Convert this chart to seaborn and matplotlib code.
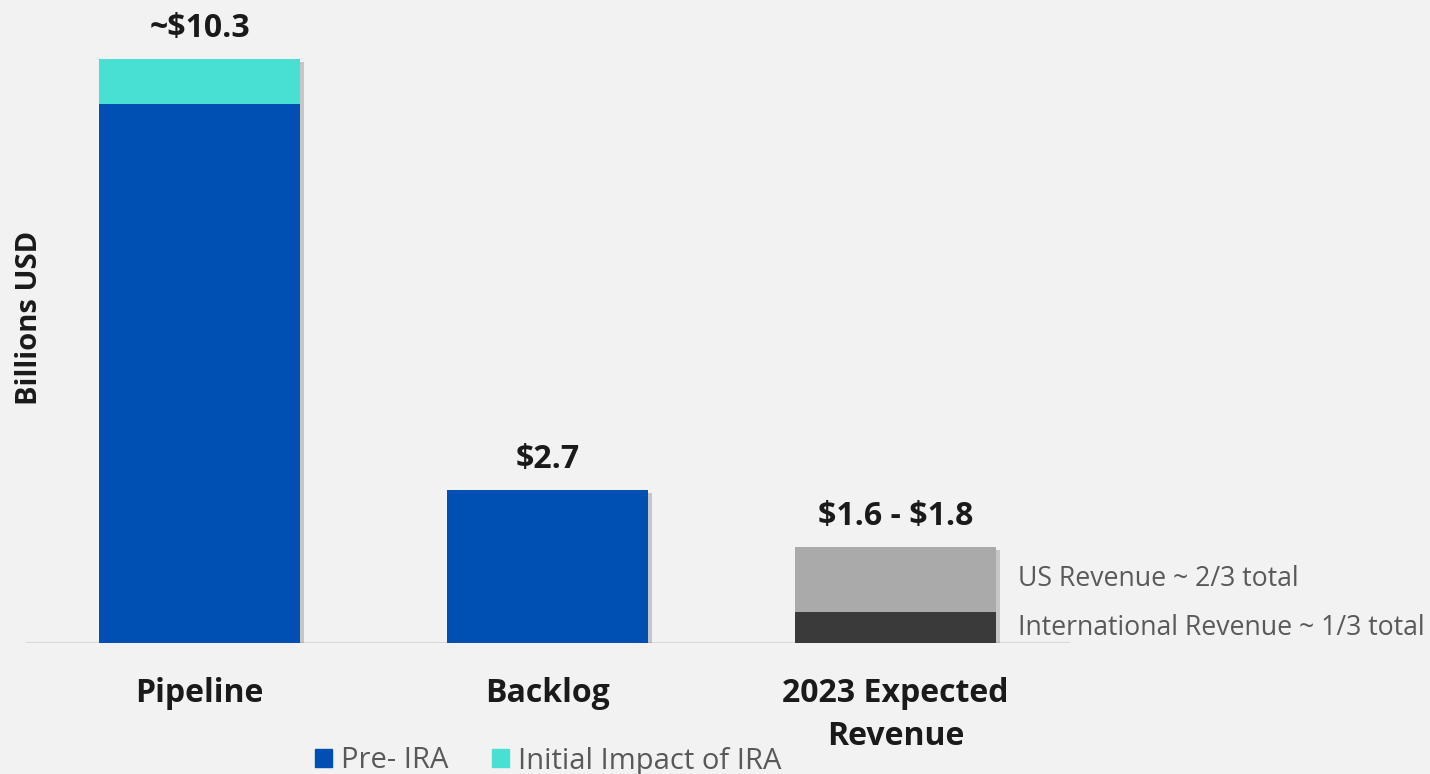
import matplotlib
matplotlib.use("Agg")
import pandas as pd
import seaborn as sns
from matplotlib import pyplot as plt
from matplotlib import patheffects as pe
from matplotlib.patches import Patch

categories = ["Pipeline", "Backlog", "2023 Expected\nRevenue"]
totals = [10.3, 2.7, 1.7]        # full bar height
lower = [9.5, 2.7, 0.55]         # bottom segment
top_labels = [r"~\$10.3", r"\$2.7", r"\$1.6 - \$1.8"]
total_colors = ["#48e0d2", "#0050b4", "#aaaaaa"]
lower_colors = ["#0050b4", "#0050b4", "#3a3a3a"]
side_notes = ["US Revenue ~ 2/3 total", "International Revenue ~ 1/3 total"]
legend_names = ["Pre- IRA", "Initial Impact of IRA"]

BG = "#f2f2f2"
sns.set_theme(style="white")
plt.rcParams["font.family"] = ["Open Sans", "DejaVu Sans"]

df = pd.DataFrame({"cat": categories, "total": totals, "lower": lower})

fig = plt.figure(figsize=(14.3, 7.74), dpi=100, facecolor=BG)
ax = fig.add_axes([0.018, 0.169, 0.73, 0.806], facecolor=BG)

shadow = [pe.SimplePatchShadow(offset=(3, -2), shadow_rgbFace="#000000", alpha=0.18), pe.Normal()]
sns.barplot(df, x="cat", y="total", hue="cat", palette=total_colors, width=0.578,
            saturation=1, legend=False, linewidth=0, ax=ax)
for p in ax.patches:
    p.set_path_effects(shadow)
sns.barplot(df, x="cat", y="lower", hue="cat", palette=lower_colors, width=0.578,
            saturation=1, legend=False, linewidth=0, ax=ax)

ax.set_xlim(-0.5, 2.5)
ax.set_ylim(0, 11)
ax.axhline(0, color="#d9d9d9", lw=1.5, zorder=0.5)
for s in ax.spines.values():
    s.set_visible(False)
ax.set_yticks([])
ax.set_xlabel("")
ax.set_ylabel("")
ax.tick_params(axis="x", length=0, pad=24)
for lab in ax.get_xticklabels():
    lab.set_fontsize(23)
    lab.set_fontweight("bold")
    lab.set_color("#1a1a1a")
    lab.set_linespacing(1.4)

for i, (t, lbl) in enumerate(zip(totals, top_labels)):
    ax.annotate(lbl, (i, t), xytext=(0, 10), textcoords="offset points",
                ha="center", va="bottom", fontsize=23, fontweight="bold", color="#1a1a1a")

# notes beside the revenue bar, centred on each segment
ax.text(2.352, (lower[2] + totals[2]) / 2, side_notes[0], va="center", ha="left",
        fontsize=19.2, color="#595959", clip_on=False)
ax.text(2.352, lower[2] / 2, side_notes[1], va="center", ha="left",
        fontsize=19.2, color="#595959", clip_on=False)

fig.text(30 / 1430, 1 - 318 / 774, "Billions USD", rotation=90, ha="center", va="center",
         fontsize=21, fontweight="bold", color="#1a1a1a")

handles = [Patch(color=c) for c in ["#0050b4", "#48e0d2"]]
fig.legend(handles, legend_names, loc="center", bbox_to_anchor=(548 / 1430, 1 - 761 / 774),
           ncol=2, frameon=False, fontsize=21, handlelength=0.6, handleheight=0.6,
           handletextpad=0.3, columnspacing=1.5, labelcolor="#595959")

fig.savefig("out.png", dpi=100, facecolor=BG)
